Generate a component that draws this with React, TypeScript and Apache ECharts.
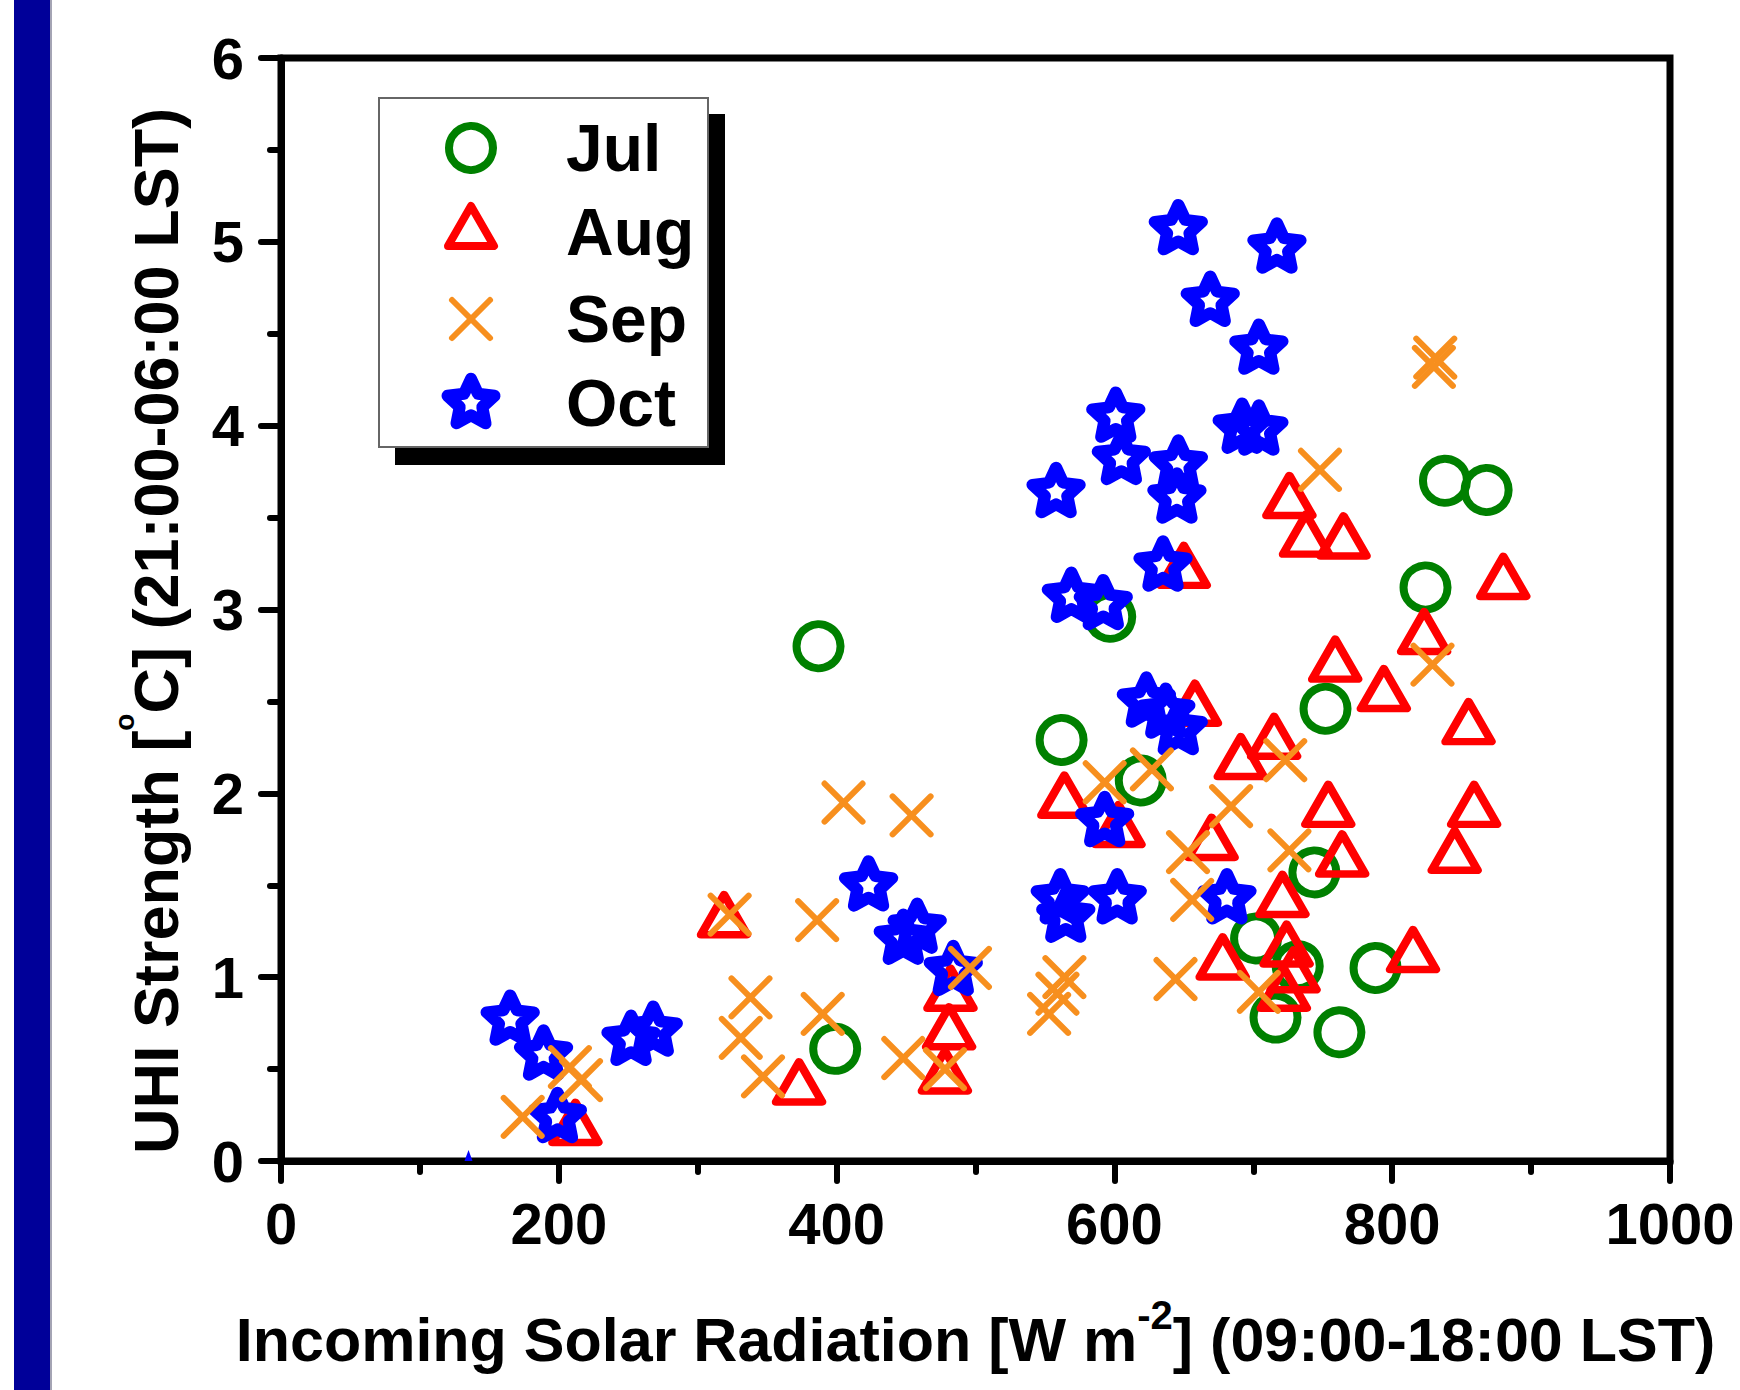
import React, { useEffect, useRef } from "react";
import * as echarts from "echarts";

// Daytime incoming solar radiation (W m-2, 09:00-18:00 LST) against the
// following night's urban heat island strength (°C, 21:00-06:00 LST).
const julPoints: [number, number][] = [
  [387, 2.8], [399, 0.61], [562, 2.29], [597, 2.96], [619, 2.07], [702, 1.21],
  [716, 0.78], [732, 1.06], [744, 1.57], [752, 2.46], [762, 0.7], [788, 1.05],
  [824, 3.12], [838, 3.7], [868, 3.65],
];

const augPoints: [number, number][] = [
  [212, 0.21], [319, 1.34], [373, 0.43], [478, 0.49], [481, 0.73], [482, 0.94],
  [564, 1.99], [603, 1.83], [650, 3.24], [658, 2.49], [670, 1.76], [678, 1.11],
  [691, 2.2], [715, 2.31], [721, 1.45], [722, 0.94], [724, 1.18], [729, 1.04],
  [726, 3.62], [738, 3.41], [754, 1.94], [759, 2.73], [765, 3.4], [764, 1.67],
  [794, 2.57], [815, 1.15], [823, 2.88], [845, 1.69], [855, 2.39], [859, 1.94],
  [880, 3.18],
];

const sepPoints: [number, number][] = [
  [174, 0.24], [208, 0.51], [216, 0.44], [323, 1.34], [331, 0.67], [338, 0.89],
  [347, 0.46], [386, 1.31], [390, 0.8], [405, 1.95], [448, 0.56], [454, 1.88],
  [478, 0.5], [496, 1.05], [553, 0.8], [559, 0.91], [564, 1.0], [593, 2.06],
  [627, 2.13], [644, 0.99], [653, 1.68], [656, 1.42], [684, 1.93], [704, 0.92],
  [723, 2.18], [726, 1.69], [748, 3.76], [829, 2.7], [830, 4.32], [831, 4.37],
];

const octPoints: [number, number][] = [
  [165, 0.78], [189, 0.59], [199, 0.25], [252, 0.67], [268, 0.72], [423, 1.51],
  [448, 1.22], [458, 1.28], [484, 1.05], [561, 1.44], [565, 1.34], [602, 1.44],
  [593, 1.86], [681, 1.44], [646, 5.08], [717, 4.98], [669, 4.69], [704, 4.43],
  [601, 4.06], [692, 4.0], [704, 3.99], [605, 3.83], [646, 3.8], [558, 3.65],
  [645, 3.62], [635, 3.25], [569, 3.08], [592, 3.04], [623, 2.51], [637, 2.45],
  [646, 2.36],
];
// a single October day with almost no heat island, drawn as a small mark
const octNearZero: [number, number] = [135, 0.03];

const monthNames = ["Jul", "Aug", "Sep", "Oct"];

const FONT = "'Liberation Sans', Arial, Helvetica, sans-serif";
const GREEN = "#008000";
const RED = "#ff0000";
const ORANGE = "#f78f1e";
const BLUE = "#0000ff";

const W = 1740;
const H = 1390;

// five-pointed star outline (alternating outer / inner vertices)
function starVertices(cx: number, cy: number, R: number, r: number): number[][] {
  const pts: number[][] = [];
  for (let i = 0; i < 10; i++) {
    const a = -Math.PI / 2 + (i * Math.PI) / 5;
    const rad = i % 2 === 0 ? R : r;
    pts.push([cx + rad * Math.cos(a), cy + rad * Math.sin(a)]);
  }
  return pts;
}
const STAR_INNER = 0.48;
const starSymbol =
  "path://" +
  starVertices(50, 50, 50, 50 * STAR_INNER)
    .map((p, i) => (i ? "L" : "M") + p[0].toFixed(2) + "," + p[1].toFixed(2))
    .join("") +
  "Z";
const crossSymbol = "path://M0,0L10,10M10,0L0,10";

const STAR_SIZE: [number, number] = [47, 44.7];
const STAR_STROKE = 12;
const CIRCLE_SIZE = 44;
const TRI_SIZE: [number, number] = [46, 40];
const CROSS_SIZE = 38;
const CROSS_STROKE = 6;

function buildLegend(): any[] {
  const markerX = 471;
  const textX = 566;
  const rows = [148, 232, 319, 403];
  const starR = STAR_SIZE[0] / (2 * Math.cos(Math.PI / 10));
  const items: any[] = [
    { type: "rect", z: 10, shape: { x: 395, y: 114, width: 330, height: 351 }, style: { fill: "#000" } },
    {
      type: "rect", z: 11,
      shape: { x: 379, y: 98, width: 329, height: 349 },
      style: { fill: "#fff", stroke: "#666", lineWidth: 2 },
    },
    {
      type: "circle", z: 12,
      shape: { cx: markerX, cy: rows[0], r: CIRCLE_SIZE / 2 },
      style: { fill: "none", stroke: GREEN, lineWidth: 8 },
    },
    {
      type: "polygon", z: 12,
      shape: {
        points: [
          [markerX - TRI_SIZE[0] / 2, rows[1] - 6 + TRI_SIZE[1] / 2],
          [markerX, rows[1] - 6 - TRI_SIZE[1] / 2],
          [markerX + TRI_SIZE[0] / 2, rows[1] - 6 + TRI_SIZE[1] / 2],
        ],
      },
      style: { fill: "none", stroke: RED, lineWidth: 8, lineJoin: "round" },
    },
    {
      type: "line", z: 12,
      shape: { x1: markerX - CROSS_SIZE / 2, y1: rows[2] - CROSS_SIZE / 2, x2: markerX + CROSS_SIZE / 2, y2: rows[2] + CROSS_SIZE / 2 },
      style: { stroke: ORANGE, lineWidth: CROSS_STROKE, lineCap: "round" },
    },
    {
      type: "line", z: 12,
      shape: { x1: markerX + CROSS_SIZE / 2, y1: rows[2] - CROSS_SIZE / 2, x2: markerX - CROSS_SIZE / 2, y2: rows[2] + CROSS_SIZE / 2 },
      style: { stroke: ORANGE, lineWidth: CROSS_STROKE, lineCap: "round" },
    },
    {
      type: "polygon", z: 12,
      shape: { points: starVertices(markerX, rows[3] + 0.0955 * starR - 2, starR, starR * STAR_INNER) },
      style: { fill: "none", stroke: BLUE, lineWidth: STAR_STROKE, lineJoin: "round" },
    },
  ];
  monthNames.forEach((name, i) => {
    items.push({
      type: "text", z: 12, x: textX, y: rows[i],
      style: {
        text: name, fill: "#000", fontSize: 66, fontWeight: "bold", fontFamily: FONT,
        align: "left", verticalAlign: "middle",
      },
    });
  });
  return items;
}

export default function App() {
  const ref = useRef<HTMLDivElement>(null);

  useEffect(() => {
    if (!ref.current) return;
    const chart = echarts.init(ref.current, undefined, { renderer: "svg", width: W, height: H });

    const tickStyle = { color: "#000", width: 6, cap: "round" };
    const labelStyle = { fontSize: 58, fontWeight: "bold", fontFamily: FONT, color: "#000" };

    const option: any = {
      animation: false,
      backgroundColor: "#ffffff",
      grid: {
        left: 281, right: 70, top: 58, bottom: 207,
        show: true, borderColor: "#000", borderWidth: 7, backgroundColor: "transparent",
      },
      xAxis: {
        type: "value", min: 0, max: 1000, interval: 200,
        axisLine: { show: true, onZero: false, lineStyle: { color: "#000", width: 7 } },
        axisTick: { show: true, inside: false, length: 20, lineStyle: tickStyle },
        minorTick: { show: true, splitNumber: 2, length: 11, lineStyle: tickStyle },
        splitLine: { show: false },
        axisLabel: { ...labelStyle, margin: 33, formatter: (v: number) => String(v) },
        name: "Incoming Solar Radiation [W m{sup|-2}] (09:00-18:00 LST)",
        nameLocation: "middle",
        nameGap: 134,
        nameTextStyle: {
          fontSize: 61, fontWeight: "bold", fontFamily: FONT, color: "#000", lineHeight: 90,
          rich: {
            sup: { fontSize: 40, lineHeight: 40, verticalAlign: "top", fontWeight: "bold", fontFamily: FONT, color: "#000" },
          },
        },
      },
      yAxis: {
        type: "value", min: 0, max: 6, interval: 1,
        axisLine: { show: true, onZero: false, lineStyle: { color: "#000", width: 7 } },
        axisTick: { show: true, inside: false, length: 20, lineStyle: tickStyle },
        minorTick: { show: true, splitNumber: 2, length: 11, lineStyle: tickStyle },
        splitLine: { show: false },
        axisLabel: { ...labelStyle, margin: 37, padding: [0, 0, 8, 0], formatter: (v: number) => String(v) },
        name: "UHI Strength [{sup|o}C] (21:00-06:00 LST)",
        nameLocation: "middle",
        nameRotate: 90,
        nameGap: 80,
        nameTextStyle: {
          fontSize: 63, fontWeight: "bold", fontFamily: FONT, color: "#000", lineHeight: 90,
          padding: [0, 43, 0, 0],
          rich: {
            sup: { fontSize: 28, lineHeight: 28, verticalAlign: "top", fontWeight: "bold", fontFamily: FONT, color: "#000" },
          },
        },
      },
      graphic: [
        // dark band down the left edge
        { type: "rect", z: 1, shape: { x: 14, y: 0, width: 36, height: H }, style: { fill: "#000099" } },
        { type: "rect", z: 1, shape: { x: 50, y: 0, width: 2, height: H }, style: { fill: "#a4a4b4" } },
        ...buildLegend(),
      ],
      series: [
        {
          name: "Jul", type: "scatter", silent: true,
          symbol: "circle", symbolSize: CIRCLE_SIZE,
          itemStyle: { color: "transparent", borderColor: GREEN, borderWidth: 8, opacity: 1 },
          data: julPoints,
        },
        {
          name: "Aug", type: "scatter", silent: true,
          symbol: "triangle", symbolSize: TRI_SIZE,
          itemStyle: { color: "transparent", borderColor: RED, borderWidth: 8, borderJoin: "round", opacity: 1 },
          data: augPoints,
        },
        {
          name: "Oct", type: "scatter", silent: true,
          symbol: starSymbol, symbolSize: STAR_SIZE,
          itemStyle: { color: "transparent", borderColor: BLUE, borderWidth: STAR_STROKE, borderJoin: "round", opacity: 1 },
          data: [
            ...octPoints,
            {
              value: octNearZero, symbol: "triangle", symbolSize: [8, 11],
              itemStyle: { color: BLUE, borderWidth: 0 },
            },
          ],
        },
        {
          name: "Sep", type: "scatter", silent: true,
          symbol: crossSymbol, symbolSize: CROSS_SIZE,
          itemStyle: { color: "transparent", borderColor: ORANGE, borderWidth: CROSS_STROKE, borderCap: "round", opacity: 1 },
          data: sepPoints,
        },
      ],
    };

    chart.setOption(option);
    return () => chart.dispose();
  }, []);

  return (
    <div
      ref={ref}
      style={{ position: "absolute", left: 0, top: 0, width: W, height: H, background: "#fff" }}
    />
  );
}
